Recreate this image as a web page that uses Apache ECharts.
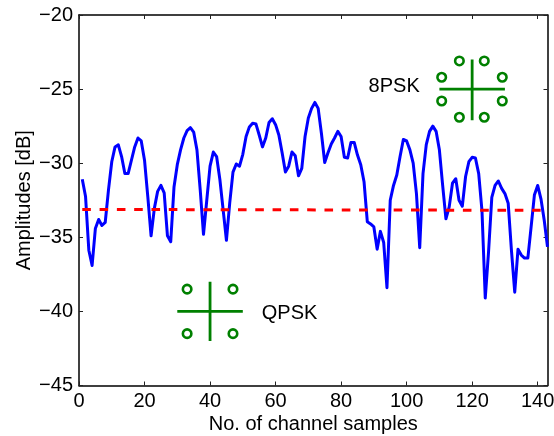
<!DOCTYPE html>
<html><head><meta charset="utf-8">
<style>html,body{margin:0;padding:0;background:#fff}#c{width:554px;height:436px}</style>
<script src="https://cdn.jsdelivr.net/npm/echarts@6/dist/echarts.min.js"></script>
</head><body><div id="c"></div>
<script>
const sampleValues = [-31.08,-32.25,-35.87,-36.9,-34.4,-33.8,-34.2,-34.0,-31.8,-29.9,-28.9,-28.76,-29.55,-30.7,-30.7,-29.8,-28.9,-28.3,-28.5,-29.8,
-32.25,-34.9,-33.05,-31.9,-31.5,-32.0,-34.9,-35.3,-31.6,-30.1,-29.1,-28.3,-27.8,-27.6,-27.9,-29.1,-31.8,-34.8,-32.5,-30.2,
-29.25,-29.55,-31.1,-33.15,-35.2,-32.7,-30.6,-30.05,-30.2,-29.4,-28.2,-27.55,-27.3,-27.35,-28.1,-28.9,-28.3,-27.25,-27.0,-27.4,
-28.1,-29.3,-30.6,-30.2,-29.25,-29.5,-30.85,-30.35,-28.2,-26.95,-26.3,-25.9,-26.3,-28.0,-29.95,-29.3,-28.7,-28.3,-27.85,-28.2,
-29.6,-29.65,-28.6,-28.6,-29.45,-30.1,-31.25,-33.95,-34.1,-34.3,-35.8,-34.6,-35.35,-38.4,-32.5,-31.5,-30.8,-29.55,-28.4,-28.5,
-29.1,-30.0,-32.05,-35.7,-30.7,-28.75,-27.85,-27.5,-27.85,-29.1,-31.5,-33.75,-32.95,-31.35,-31.05,-32.5,-32.9,-30.9,-29.9,-29.6,
-29.65,-30.7,-33.2,-39.1,-36.0,-32.3,-31.5,-31.2,-31.7,-32.05,-32.7,-35.9,-38.7,-35.8,-36.2,-36.4,-36.4,-34.3,-32.15,-31.5,
-32.4,-33.85,-35.65];
const thresholdLine = [[1,-33.12],[143,-33.18]];
const qpskH = [[30,-40],[50,-40]];
const qpskV = [[40,-38],[40,-42]];
const qpskPts = [[33,-38.5],[47,-38.5],[33,-41.5],[47,-41.5]];
const psk8H = [[110,-25],[130,-25]];
const psk8V = [[120,-23],[120,-27.1]];
const psk8Pts = [[116.1,-23.1],[123.7,-23.1],[110.7,-24.2],[129.2,-24.2],[110.7,-25.8],[129.2,-25.8],[116.1,-26.9],[123.7,-26.9]];
const textLabels = [{name:'8PSK',value:[88.4,-24.8]},{name:'QPSK',value:[55.8,-40.15]}];
const xTicks = [0,20,40,60,80,100,120,140];
const yRange = [-45,-20];

const font = '"Liberation Sans", Arial, sans-serif';
const ink = '#000';
const green = '#008000';
const lineData = sampleValues.map((v,i)=>[i+1,v]);
const seg = (d)=>({type:'line',data:d,showSymbol:false,symbol:'none',silent:true,z:3,
  lineStyle:{color:green,width:2.8,cap:'butt'}});
const pts = (d)=>({type:'scatter',data:d,symbol:'circle',symbolSize:8.5,silent:true,z:4,
  itemStyle:{color:'#fff',borderColor:green,borderWidth:2.6,opacity:1}});
const axBase = {axisLine:{show:true,onZero:false,lineStyle:{color:ink,width:1.5}},
  axisTick:{show:true,inside:true,length:4,lineStyle:{color:'#222',width:1}},splitLine:{show:false}};
const lab = {color:ink,fontFamily:font,fontSize:20};
const chart = echarts.init(document.getElementById('c'),null,{renderer:'canvas'});
chart.setOption({
  animation:false,backgroundColor:'#fff',
  grid:{left:79,top:15,right:6.5,bottom:50.5,containLabel:false,outerBoundsMode:'none'},
  xAxis:[
    Object.assign({type:'value',min:0,max:143,interval:20,position:'bottom',
      name:'No. of channel samples',nameLocation:'middle',nameGap:29,nameMoveOverlap:false,
      nameTextStyle:{color:ink,fontFamily:font,fontSize:20},
      axisLabel:Object.assign({margin:6,customValues:xTicks},lab),
      axisTick:Object.assign({},axBase.axisTick,{customValues:xTicks})},{axisLine:axBase.axisLine,splitLine:axBase.splitLine}),
    Object.assign({type:'value',min:0,max:143,interval:20,position:'top',axisLabel:{show:false}},{axisLine:axBase.axisLine,splitLine:axBase.splitLine,
      axisTick:Object.assign({},axBase.axisTick,{customValues:xTicks})})
  ],
  yAxis:[
    Object.assign({type:'value',min:yRange[0],max:yRange[1],interval:5,position:'left',
      name:'Amplitudes [dB]',nameLocation:'middle',nameGap:45,nameRotate:90,nameMoveOverlap:false,
      nameTextStyle:{color:ink,fontFamily:font,fontSize:20},
      axisLabel:Object.assign({margin:6,formatter:v=>String(v).replace('-','\u2212')},lab)},axBase),
    Object.assign({type:'value',min:yRange[0],max:yRange[1],interval:5,position:'right',axisLabel:{show:false}},axBase)
  ],
  series:[
    {type:'line',data:lineData,showSymbol:false,symbol:'none',smooth:false,z:2,
      lineStyle:{color:'#0000ff',width:3,join:'round'}},
    {type:'line',data:thresholdLine,showSymbol:false,symbol:'none',z:5,
      lineStyle:{color:'#ff0000',width:3,type:[8.6,8.7]}},
    seg(qpskH),seg(qpskV),pts(qpskPts),seg(psk8H),seg(psk8V),pts(psk8Pts),
    {type:'scatter',data:textLabels,symbolSize:0,silent:true,z:6,itemStyle:{opacity:1},
      label:{show:true,position:'right',distance:0,formatter:p=>p.name,color:ink,fontFamily:font,fontSize:20}}
  ]
});
</script></body></html>
